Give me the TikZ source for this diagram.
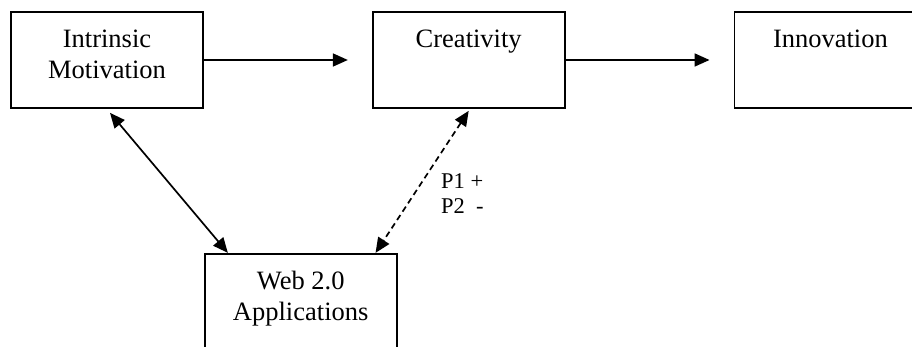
\documentclass[tikz,border=0pt]{standalone}
\usepackage{fontspec}
\setmainfont{Liberation Serif}
\usetikzlibrary{positioning,arrows.meta}
\newcommand{\boxtext}[1]{\parbox[c][96pt][t]{192pt}{\centering\rule{0pt}{36pt}#1}}
\begin{document}
\begin{tikzpicture}[x=1pt,y=1pt]
  \tikzstyle{box}=[draw,line width=1.7pt,inner sep=0pt,font=\fontsize{26.5}{31}\selectfont]
  \tikzstyle{flow}=[line width=1.7pt,-{Triangle[length=15pt,width=13pt]}]
  \tikzstyle{both}=[line width=1.7pt,{Triangle[length=15pt,width=13pt]}-{Triangle[length=15pt,width=13pt]}]
  \useasboundingbox (0,0) rectangle (912,347);
  \clip (0,0) rectangle (912,347);
  \node[box] (motiv) at (107,287) {\boxtext{Intrinsic\\Motivation}};
  \node[box,right=168pt of motiv] (creat) {\boxtext{Creativity}};
  \node[box,right=168pt of creat] (innov) {\boxtext{Innovation}};
  \node[box,below right=144pt and 0pt of motiv] (web) {\boxtext{Web 2.0\\Applications}};
  \node[anchor=north west,inner sep=0pt,align=left,font=\fontsize{22.5}{25}\selectfont]
    (props) at (441,174) {P1 +\\P2\ \ -};
  \draw[flow,shorten >=24pt] (motiv.east) -- (creat.west);
  \draw[flow,shorten >=24pt] (creat.east) -- (innov.west);
  \draw[both] ([xshift=3pt,yshift=-4pt]motiv.south) -- ([xshift=24pt]web.north west);
  \draw[both,dash pattern=on 6pt off 4pt] ([yshift=-2pt]creat.south) -- ([xshift=-22pt]web.north east);
\end{tikzpicture}
\end{document}
